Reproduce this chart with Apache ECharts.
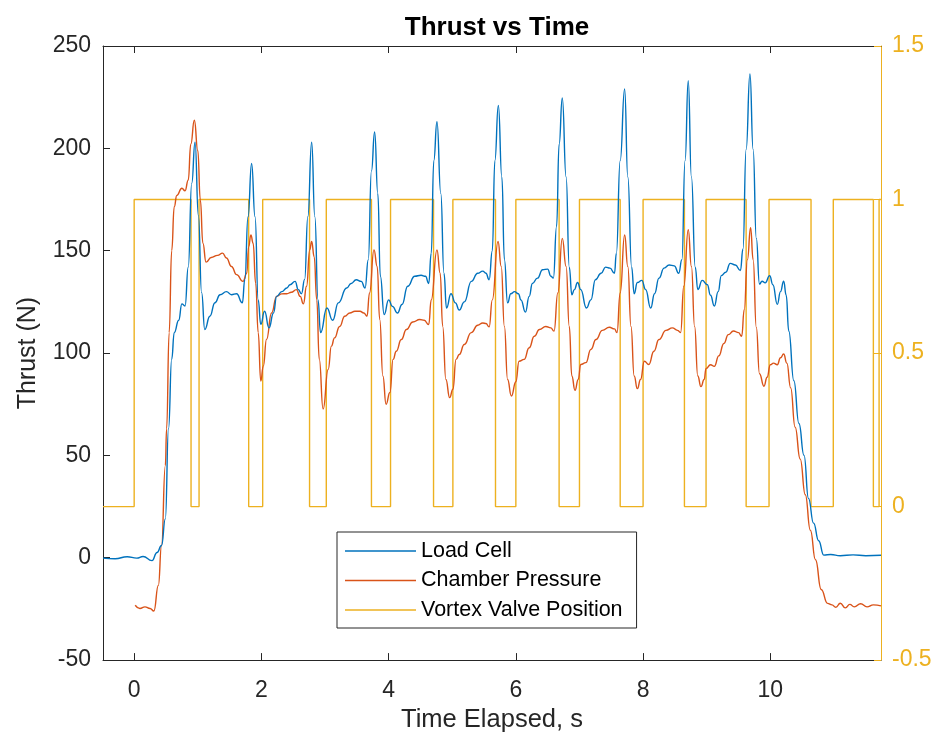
<!DOCTYPE html>
<html>
<head>
<meta charset="utf-8">
<script src="https://cdn.jsdelivr.net/npm/echarts@6/dist/echarts.min.js"></script>
<style>html,body{margin:0;padding:0;background:#fff;}#c{width:936px;height:738px;}</style>
</head>
<body>
<div id="c"></div>
<script>
// ---- data ----
const xTicks = [0, 2, 4, 6, 8, 10];
const leftTicks = [-50, 0, 50, 100, 150, 200, 250];
const rightTicks = [-0.5, 0, 0.5, 1, 1.5];
const seriesNames = ['Load Cell', 'Chamber Pressure', 'Vortex Valve Position'];

const loadCell = [[-0.49,-0.2],[-0.3,-0.5],[-0.11,0.5],[0.04,-0.2],[0.14,0.6],[0.28,-1.4],[0.36,2.6],[0.43,6],[0.49,19],[0.54,63],[0.59,97],[0.63,110],[0.70,116],[0.75,124],[0.80,123],[0.85,142],[0.905,183],[0.957,203],[1.01,167],[1.06,129.5],[1.11,111.5],[1.19,118],[1.27,124.6],[1.35,128.5],[1.45,130],[1.53,128.5],[1.61,129],[1.70,124.5],[1.74,136],[1.79,166.6],[1.846,192.6],[1.90,166.6],[1.95,126],[1.99,114],[2.05,120.4],[2.12,112.3],[2.19,119.6],[2.24,127.7],[2.32,130],[2.40,131.8],[2.45,133.4],[2.53,135],[2.58,131],[2.63,129],[2.68,136],[2.73,166.6],[2.79,203],[2.84,166.6],[2.89,126],[2.93,110],[3.03,122],[3.12,116],[3.21,124.5],[3.34,131.8],[3.41,134],[3.49,135.8],[3.57,135],[3.63,131.8],[3.68,145.6],[3.73,189],[3.78,208],[3.83,178],[3.87,137.5],[3.93,118.8],[4.0,126],[4.06,122.8],[4.14,119.6],[4.21,123.7],[4.30,132.6],[4.41,137.5],[4.51,138],[4.58,137.5],[4.63,134],[4.67,148.8],[4.71,194],[4.76,213],[4.82,178],[4.87,139],[4.91,122],[4.98,129],[5.05,124.5],[5.11,121],[5.19,125],[5.30,135],[5.40,139],[5.48,140],[5.53,139],[5.58,135.8],[5.63,150],[5.67,194],[5.725,221],[5.78,186],[5.82,145.6],[5.87,124.5],[5.92,129],[5.98,130],[6.04,129],[6.08,126],[6.15,120],[6.21,127.7],[6.26,134],[6.34,136.6],[6.42,140.7],[6.50,141],[6.55,137.5],[6.59,136.6],[6.64,161.8],[6.68,202],[6.73,224.6],[6.79,186],[6.84,142],[6.88,128.5],[6.92,131],[6.97,134.5],[7.02,131],[7.11,122],[7.18,126],[7.25,135.8],[7.34,139],[7.41,142],[7.48,141.5],[7.55,139],[7.58,148.8],[7.64,194],[7.71,229],[7.76,186],[7.82,142],[7.86,129],[7.91,134.5],[7.98,135.5],[8.04,131],[8.12,122],[8.18,129],[8.25,136.6],[8.33,141.5],[8.41,143],[8.49,142.6],[8.56,139],[8.61,145.6],[8.66,194],[8.71,233],[8.76,186],[8.82,142],[8.86,131],[8.93,135.5],[9.01,133.4],[9.06,128.2],[9.12,123],[9.18,130],[9.23,137.8],[9.30,139.5],[9.37,143.8],[9.45,143],[9.53,140.3],[9.57,150.8],[9.62,199.5],[9.68,236.3],[9.73,199.5],[9.78,156],[9.83,133.7],[9.87,135.1],[9.92,134.3],[9.99,137.8],[10.04,133.4],[10.11,123.8],[10.16,130],[10.21,135.1],[10.25,128.2],[10.29,110.8],[10.37,86.5],[10.45,65.6],[10.53,50],[10.60,29],[10.68,16.9],[10.76,8.3],[10.84,1.3],[10.95,1.6],[11.1,1.0],[11.3,1.4],[11.5,1.0],[11.74,1.2]];

const chamberPressure = [[0.016,-23.2],[0.09,-24.8],[0.17,-24],[0.25,-24.8],[0.31,-26],[0.38,-13.5],[0.43,6],[0.49,45],[0.51,63],[0.55,110],[0.59,150],[0.63,171.5],[0.67,177],[0.75,180.5],[0.80,179.3],[0.85,184.5],[0.89,202],[0.946,213.7],[1.0,199],[1.04,174.8],[1.08,153.7],[1.13,144.4],[1.21,146.7],[1.31,147.7],[1.39,148.8],[1.45,146.4],[1.53,142.3],[1.61,138.3],[1.71,135],[1.77,139],[1.80,152],[1.835,157.7],[1.87,153.7],[1.91,134],[1.95,110],[1.99,86.3],[2.03,93.6],[2.08,106.6],[2.16,119.6],[2.24,127.7],[2.32,128.9],[2.40,129],[2.47,129.7],[2.55,131],[2.61,127.7],[2.66,124],[2.71,132.6],[2.76,150.4],[2.79,154.5],[2.83,147],[2.87,126],[2.91,96.9],[2.97,72.7],[3.05,92],[3.10,103.4],[3.15,107.4],[3.23,113],[3.31,118],[3.39,119.6],[3.47,120.4],[3.55,120.4],[3.61,119.6],[3.66,118],[3.70,129.4],[3.77,150.4],[3.82,142.3],[3.86,116.4],[3.91,88.8],[3.96,75],[4.02,80.7],[4.07,96.9],[4.12,100.9],[4.20,106.6],[4.28,111.5],[4.38,115.2],[4.49,116.4],[4.56,116],[4.63,113.9],[4.67,126],[4.76,150.4],[4.81,139],[4.85,113],[4.90,87.1],[4.96,78.2],[5.01,82.3],[5.06,96.9],[5.11,99.3],[5.19,104.2],[5.30,110],[5.40,113.6],[5.48,114.7],[5.53,114.4],[5.58,112.8],[5.63,126],[5.72,154.5],[5.77,142.3],[5.82,113],[5.87,87.1],[5.93,79],[6.00,86],[6.05,96],[6.13,96.9],[6.21,102.6],[6.29,108.2],[6.37,111.5],[6.47,113],[6.55,112.3],[6.60,110.7],[6.66,129.4],[6.73,156],[6.79,142.3],[6.84,113],[6.88,88.8],[6.93,81.8],[6.98,87.1],[7.02,94.4],[7.10,95.3],[7.18,101.8],[7.26,106.6],[7.36,111.1],[7.47,112.6],[7.55,111.8],[7.59,110],[7.64,129.4],[7.71,157.7],[7.76,142.3],[7.81,113],[7.86,88.8],[7.91,82.6],[7.96,87.1],[8.02,96],[8.09,94.4],[8.17,100.9],[8.25,106.6],[8.36,111.1],[8.46,112.3],[8.54,111.1],[8.59,110],[8.64,132.6],[8.71,160.2],[8.76,142.3],[8.81,113],[8.86,88.8],[8.91,83.6],[8.96,87.1],[8.99,92.5],[9.06,94.3],[9.12,93.5],[9.19,98.6],[9.27,104.7],[9.34,109],[9.42,110.8],[9.50,110],[9.55,108.2],[9.59,121.2],[9.64,145.6],[9.69,161.2],[9.73,145.6],[9.78,112.5],[9.83,89.9],[9.90,83.8],[9.95,88.2],[10.0,94.3],[10.05,95.1],[10.11,94.3],[10.16,97.7],[10.21,99.5],[10.26,95.1],[10.32,83],[10.39,63.8],[10.47,48.2],[10.55,30.8],[10.63,13.4],[10.71,-1],[10.80,-15.5],[10.90,-22.3],[10.97,-23],[11.03,-24.2],[11.1,-22.2],[11.18,-24.5],[11.25,-22.8],[11.32,-24],[11.42,-22.5],[11.52,-24],[11.62,-23],[11.74,-23.5]];

// valve position: [time, state] at each switch
const valvePosition = [[-0.49,0],[0,1],[0.894,0],[1.02,1],[1.80,0],[2.02,1],[2.757,0],[3.02,1],[3.73,0],[4.03,1],[4.706,0],[5.01,1],[5.68,0],[6.00,1],[6.68,0],[7.00,1],[7.64,0],[8.00,1],[8.65,0],[8.99,1],[9.62,0],[9.98,1],[10.64,0],[10.99,1],[11.62,0],[11.71,1],[11.74,1]];

// ---- chart ----
const FONT = 'Liberation Sans, Arial, sans-serif';
const AX = '#262626';
const BLUE = '#0072BD', ORANGE = '#D95319', YELLOW = '#EDB120';
const X_MIN = -0.49, X_MAX = 11.74;
// thin horizontal legend line; the leading moves pin the icon's bounding box to the full item box
const LEGEND_LINE = 'path://M0,0 M71,22 M0,10.3 L71,10.3 L71,11.7 L0,11.7 Z';

const chart = echarts.init(document.getElementById('c'), null, {renderer: 'canvas'});
chart.setOption({
  animation: false,
  backgroundColor: '#fff',
  title: {
    text: 'Thrust vs Time', left: 492, top: 10, textAlign: 'center',
    textStyle: {fontFamily: FONT, fontSize: 26, fontWeight: 'bold', color: '#000'}
  },
  grid: {left: 103, right: 55, top: 46, bottom: 76, containLabel: false},
  legend: {
    orient: 'vertical', left: 337, top: 532,
    data: seriesNames,
    icon: LEGEND_LINE,
    itemWidth: 71, itemHeight: 22, itemGap: 7.5,
    padding: [8, 14, 7, 8],
    itemStyle: {borderWidth: 0},
    borderColor: AX, borderWidth: 1, backgroundColor: '#fff',
    textStyle: {fontFamily: FONT, fontSize: 21.5, color: '#000'},
    selectedMode: false
  },
  xAxis: [{
    type: 'value', min: X_MIN, max: X_MAX, position: 'bottom',
    name: 'Time Elapsed, s', nameLocation: 'middle', nameGap: 46,
    nameTextStyle: {fontFamily: FONT, fontSize: 25.5, color: AX},
    axisLine: {show: true, onZero: false, lineStyle: {color: AX, width: 1}},
    axisTick: {show: true, inside: true, length: 7, customValues: xTicks, lineStyle: {color: AX}},
    axisLabel: {show: true, customValues: xTicks, fontFamily: FONT, fontSize: 23, color: AX, margin: 19},
    splitLine: {show: false}
  }, {
    type: 'value', min: X_MIN, max: X_MAX, position: 'top',
    axisLine: {show: true, onZero: false, lineStyle: {color: AX, width: 1}},
    axisTick: {show: true, inside: true, length: 7, customValues: xTicks, lineStyle: {color: AX}},
    axisLabel: {show: false},
    splitLine: {show: false}
  }],
  yAxis: [{
    type: 'value', min: -50, max: 250, interval: 50, position: 'left',
    name: 'Thrust (N)', nameLocation: 'middle', nameGap: 62,
    nameTextStyle: {fontFamily: FONT, fontSize: 25, color: AX},
    axisLine: {show: true, onZero: false, lineStyle: {color: AX, width: 1}},
    axisTick: {show: true, inside: true, length: 7, lineStyle: {color: AX}},
    axisLabel: {fontFamily: FONT, fontSize: 23, color: AX, margin: 12, padding: [6, 0, 0, 0]},
    splitLine: {show: false}
  }, {
    type: 'value', min: -0.5, max: 1.5, interval: 0.5, position: 'right',
    axisLine: {show: true, onZero: false, lineStyle: {color: YELLOW, width: 1}},
    axisTick: {show: true, inside: true, length: 7, lineStyle: {color: YELLOW}},
    axisLabel: {fontFamily: FONT, fontSize: 23, color: YELLOW, margin: 11, padding: [6, 0, 0, 0]},
    splitLine: {show: false}
  }],
  series: [{
    name: seriesNames[2], type: 'line', xAxisIndex: 0, yAxisIndex: 1,
    data: valvePosition, step: 'end', symbol: 'none', z: 1,
    lineStyle: {color: YELLOW, width: 1.4}, itemStyle: {color: YELLOW}
  }, {
    name: seriesNames[0], type: 'line', xAxisIndex: 0, yAxisIndex: 0,
    data: loadCell, symbol: 'none', smooth: 0.5, smoothMonotone: 'x', z: 3,
    lineStyle: {color: BLUE, width: 1.4}, itemStyle: {color: BLUE}
  }, {
    name: seriesNames[1], type: 'line', xAxisIndex: 0, yAxisIndex: 0,
    data: chamberPressure, symbol: 'none', smooth: 0.5, smoothMonotone: 'x', z: 2,
    lineStyle: {color: ORANGE, width: 1.4}, itemStyle: {color: ORANGE}
  }]
});
</script>
</body>
</html>
